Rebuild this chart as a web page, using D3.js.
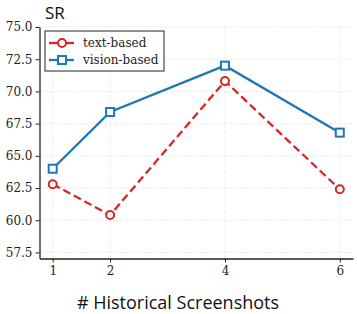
<!DOCTYPE html>
<html>
<head>
<meta charset="utf-8">
<script src="https://cdn.jsdelivr.net/npm/d3@7"></script>
<style>
  body { margin: 0; background: #fff; }
</style>
</head>
<body>
<script>
// data
let screenshots = [1, 2, 4, 6];
let textBased = [62.8, 60.4, 70.8, 62.4];
let visionBased = [64.0, 68.4, 72.0, 66.8];
let yTicks = [57.5, 60.0, 62.5, 65.0, 67.5, 70.0, 72.5, 75.0];

const width = 357;
const height = 314;
const red = "#d62728";
const blue = "#1f77b4";

const svg = d3.select("body")
    .append("svg")
    .attr("width", width)
    .attr("height", height);

const x = d3.scaleLinear().domain([0.77, 6.23]).range([39.5, 353]);
const y = d3.scaleLinear().domain([57.03, 75]).range([258.5, 27]);

// grid
svg.append("g")
    .selectAll("line")
    .data(screenshots)
    .enter()
    .append("line")
    .attr("x1", d => x(d)).attr("x2", d => x(d))
    .attr("y1", y.range()[0]).attr("y2", y.range()[1])
    .attr("stroke", "#e3e3e3").attr("stroke-width", 0.8)
    .attr("stroke-dasharray", "3,2");
svg.append("g")
    .selectAll("line")
    .data(yTicks)
    .enter()
    .append("line")
    .attr("x1", x.range()[0]).attr("x2", x.range()[1])
    .attr("y1", d => y(d)).attr("y2", d => y(d))
    .attr("stroke", "#e3e3e3").attr("stroke-width", 0.8)
    .attr("stroke-dasharray", "3,2");

// axes
const xAxis = svg.append("g")
    .attr("transform", `translate(0,${y.range()[0]})`)
    .call(d3.axisBottom(x).tickValues(screenshots).tickFormat(d3.format("d")).tickSize(4).tickPadding(4).tickSizeOuter(0));
const yAxis = svg.append("g")
    .attr("transform", `translate(${x.range()[0]},0)`)
    .call(d3.axisLeft(y).tickValues(yTicks).tickFormat(d3.format(".1f")).tickSize(4).tickPadding(3).tickSizeOuter(0));

[xAxis, yAxis].forEach(a => {
    a.select(".domain").attr("stroke", "#222").attr("stroke-width", 1.3);
    a.selectAll(".tick line").attr("stroke", "#222").attr("stroke-width", 1);
    a.selectAll("text")
        .attr("fill", "#222")
        .style("font-family", "'DejaVu Serif', serif")
        .style("font-size", "12px");
});

// lines
const line = d3.line()
    .x((d, i) => x(screenshots[i]))
    .y(d => y(d));

svg.append("path")
    .datum(textBased)
    .attr("d", line)
    .attr("fill", "none")
    .attr("stroke", red)
    .attr("stroke-width", 2.3)
    .attr("stroke-dasharray", "8,4");

svg.append("path")
    .datum(visionBased)
    .attr("d", line)
    .attr("fill", "none")
    .attr("stroke", blue)
    .attr("stroke-width", 2.3);

svg.append("g")
    .selectAll("circle")
    .data(textBased)
    .enter()
    .append("circle")
    .attr("cx", (d, i) => x(screenshots[i]))
    .attr("cy", d => y(d))
    .attr("r", 4)
    .attr("fill", "#fff")
    .attr("stroke", red)
    .attr("stroke-width", 2);

svg.append("g")
    .selectAll("rect")
    .data(visionBased)
    .enter()
    .append("rect")
    .attr("x", (d, i) => x(screenshots[i]) - 4)
    .attr("y", d => y(d) - 4)
    .attr("width", 8)
    .attr("height", 8)
    .attr("fill", "#fff")
    .attr("stroke", blue)
    .attr("stroke-width", 2);

// legend
const legend = svg.append("g").attr("transform", "translate(45,31)");
legend.append("rect")
    .attr("width", 119).attr("height", 40)
    .attr("fill", "#fff")
    .attr("stroke", "#222").attr("stroke-width", 1);

const items = [
    {name: "text-based", color: red, shape: "circle"},
    {name: "vision-based", color: blue, shape: "square"}
];
items.forEach((it, i) => {
    const g = legend.append("g").attr("transform", `translate(0,${12 + i * 17})`);
    g.append("line")
        .attr("x1", 4).attr("x2", 29)
        .attr("stroke", it.color).attr("stroke-width", 2.3);
    if (it.shape == "circle") {
        g.append("circle").attr("cx", 17).attr("r", 4)
            .attr("fill", "#fff").attr("stroke", it.color).attr("stroke-width", 2);
    } else {
        g.append("rect").attr("x", 13).attr("y", -4).attr("width", 8).attr("height", 8)
            .attr("fill", "#fff").attr("stroke", it.color).attr("stroke-width", 2);
    }
    g.append("text")
        .attr("x", 38).attr("y", 4)
        .style("font-family", "'DejaVu Serif', serif")
        .style("font-size", "12px")
        .attr("fill", "#222")
        .text(it.name);
});

// titles
svg.append("text")
    .attr("x", 45).attr("y", 19)
    .style("font-family", "'Open Sans', sans-serif")
    .style("font-size", "17px")
    .attr("fill", "#111")
    .text("SR");

svg.append("text")
    .attr("x", 178).attr("y", 309)
    .attr("text-anchor", "middle")
    .style("font-family", "'Open Sans', sans-serif")
    .style("font-size", "18px")
    .attr("fill", "#111")
    .text("# Historical Screenshots");
</script>
</body>
</html>
